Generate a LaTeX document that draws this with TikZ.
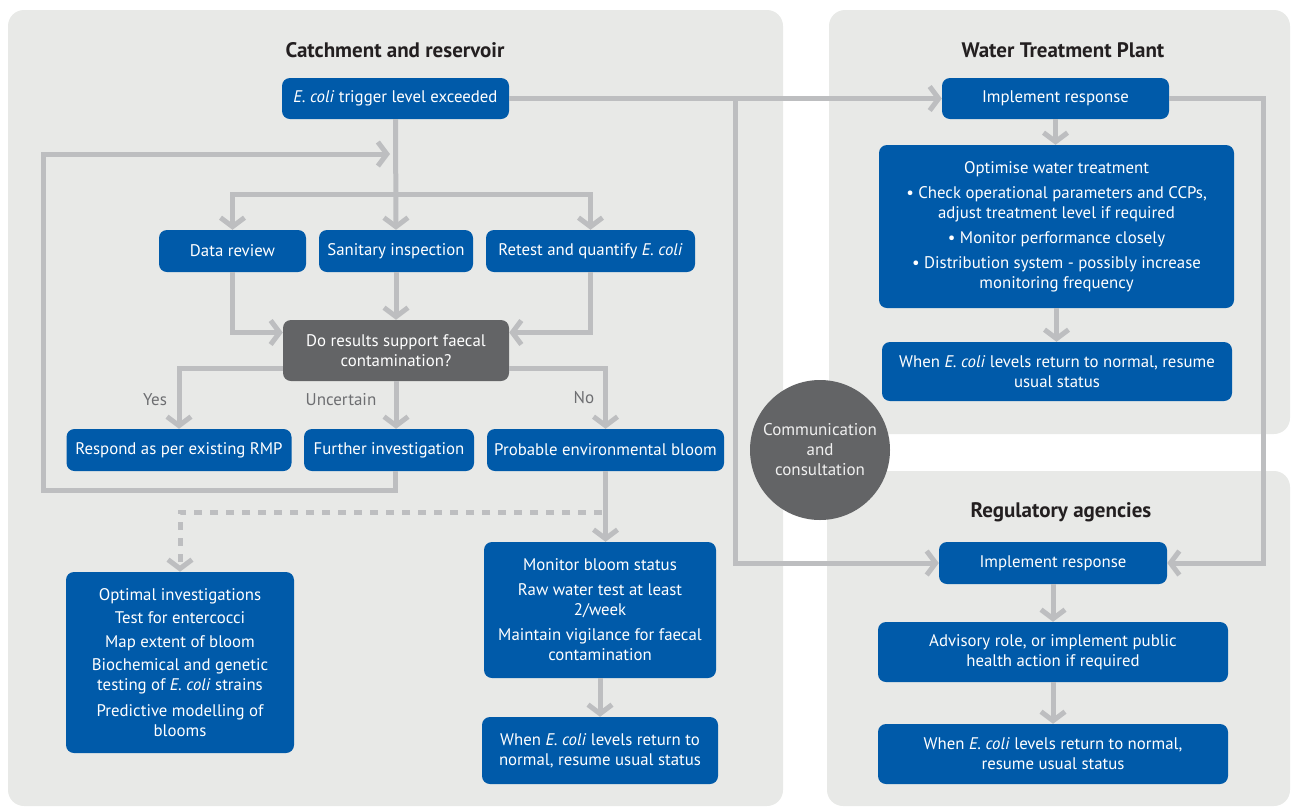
\documentclass[tikz,border=0pt]{standalone}
\usepackage{fontspec}
\setmainfont{PT Sans}
\usetikzlibrary{arrows.meta}
\definecolor{panelgrey}{HTML}{E8E9E7}
\definecolor{ewblue}{HTML}{005AA9}
\definecolor{darkbox}{HTML}{636466}
\definecolor{flowgrey}{HTML}{BDBEC0}
\definecolor{titleink}{HTML}{231F20}
\definecolor{labelink}{HTML}{6D6E71}
\tikzset{
  panel/.style={fill=panelgrey, rounded corners=16pt},
  box/.style={fill=ewblue, rounded corners=8pt, text=white, align=center, inner sep=0pt, font=\fontsize{16.8}{20}\selectfont},
  query/.style={box, fill=darkbox},
  title/.style={text=titleink, font=\fontsize{21}{24}\selectfont\bfseries},
  tag/.style={text=labelink, font=\fontsize{17}{20}\selectfont},
  flow/.style={draw=flowgrey, line width=5pt, -{Straight Barb[length=9pt,width=24pt]}},
}
\begin{document}
\begin{tikzpicture}[x=1pt, y=-1pt]
    \useasboundingbox (0,0) rectangle (1291,807);
    \clip (0,0) rectangle (1291,807);

    % Panels
    \fill[panel] (8,10) rectangle (783,806);
    \fill[panel] (829,10) rectangle (1290,434);
    \fill[panel] (827,471) rectangle (1290,806);
    \node[title] (ttlcatch) at (395,50) {Catchment and reservoir};
    \node[title] (ttlwtp) at (1063,50) {Water Treatment Plant};
    \node[title] (ttlreg) at (1061,512) {Regulatory agencies};

    % Nodes for catchment and reservoir
    \node[box, minimum width=227, minimum height=41] (trig) at (395.5,98.5) {\textit{E. coli} trigger level exceeded};
    \node[box, minimum width=147, minimum height=42] (datarev) at (232.5,251) {Data review};
    \node[box, minimum width=154, minimum height=42] (sanit) at (396,251) {Sanitary inspection};
    \node[box, minimum width=209, minimum height=42] (retest) at (590.5,251) {Retest and quantify \textit{E. coli}};
    \node[query, minimum width=226, minimum height=61] (query) at (396,350.5) {Do results support faecal\\contamination?};
    \node[box, minimum width=225, minimum height=42] (respond) at (179,450) {Respond as per existing RMP};
    \node[box, minimum width=170, minimum height=42] (further) at (389,450) {Further investigation};
    \node[box, minimum width=237, minimum height=42] (bloom) at (605.5,450) {Probable environmental bloom};
    \node[box, minimum width=232, minimum height=136] (monitor) at (600,610) {Monitor bloom status\\[5pt]Raw water test at least\\2/week\\[5pt]Maintain vigilance for faecal\\contamination};
    \node[box, minimum width=236, minimum height=67] (endleft) at (600,750.5) {When \textit{E. coli} levels return to\\normal, resume usual status};
    \node[box, minimum width=228, minimum height=181] (optimal) at (180,662.5) {Optimal investigations\\[3pt]Test for entercocci\\[4pt]Map extent of bloom\\[3pt]Biochemical and genetic\\testing of \textit{E. coli} strains\\[6pt]Predictive modelling of\\blooms};

    % Nodes for water treatment plant
    \node[box, minimum width=227, minimum height=41] (wtpimp) at (1055.5,98.5) {Implement response};
    \node[box, minimum width=355, minimum height=163] (optimise) at (1056.5,226.5) {Optimise water treatment\\[5pt]\textbullet\ Check operational parameters and CCPs,\\adjust treatment level if required\\[5pt]\textbullet\ Monitor performance closely\\[5pt]\textbullet\ Distribution system - possibly increase\\monitoring frequency};
    \node[box, minimum width=350, minimum height=59] (wtpend) at (1057,371.5) {When \textit{E. coli} levels return to normal, resume\\usual status};

    % Nodes for regulatory agencies
    \node[box, minimum width=228, minimum height=42] (raimp) at (1053,563) {Implement response};
    \node[box, minimum width=350, minimum height=60] (advisory) at (1053,652) {Advisory role, or implement public\\health action if required};
    \node[box, minimum width=350, minimum height=60] (raend) at (1053,754) {When \textit{E. coli} levels return to normal,\\resume usual status};

    % Edges to the other agencies
    \coordinate (split) at (735,98.5);
    \draw[flow] (trig.east) -- (wtpimp.west);
    \draw[flow] (split) |- (raimp.west);
    \draw[flow] (wtpimp.east) -- ++(94,0) |- (raimp.east);

    % Edges in the catchment
    \coordinate (fork) at (395.5,194);
    \coordinate (loopend) at (390,154);
    \draw[flow] (trig.south) -- (sanit.north);
    \draw[flow] (fork) -| (datarev.north);
    \draw[flow] (fork) -| (retest.north);
    \draw[flow] (further.south -| trig.south) |- (43,490) |- (loopend); % back to the start
    \draw[flow] (datarev.south) |- ([yshift=18pt]query.west);
    \draw[flow] (sanit.south) -- (query.north);
    \draw[flow] (retest.south) |- ([yshift=18pt]query.east);
    \draw[flow] ([yshift=-18pt]query.west) -| (respond.north);
    \draw[flow] (query.south) -- (query.south |- further.north);
    \draw[flow] ([yshift=-18pt]query.east) -| (bloom.north);
    \draw[flow] (bloom.south) -- (bloom.south |- monitor.north);
    \draw[flow] (monitor.south) -- (endleft.north);
    \coordinate (dashfrom) at (602,512);
    \draw[flow, dash pattern=on 8pt off 8pt] (dashfrom) -| (optimal.north);
    \node[tag] (yes) at (155,400) {Yes};
    \node[tag] (unsure) at (341,400) {Uncertain};
    \node[tag] (no) at (584,398) {No};

    % Edges in the plant and the agencies
    \draw[flow] (wtpimp.south) -- (wtpimp.south |- optimise.north);
    \draw[flow] (optimise.south) -- (optimise.south |- wtpend.north);
    \draw[flow] (raimp.south) -- (advisory.north);
    \draw[flow] (advisory.south) -- (raend.north);

    % Communication hub
    \node[circle, fill=darkbox, minimum size=140, inner sep=0pt, align=center, text=white!94!black, font=\fontsize{17}{20}\selectfont] (comms) at (820,450) {Communication\\and\\consultation};
\end{tikzpicture}
\end{document}
